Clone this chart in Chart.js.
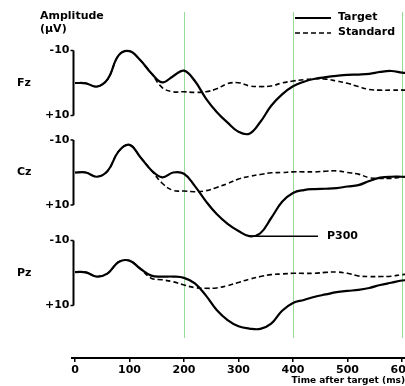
<!DOCTYPE html>
<html>
<head>
<meta charset="utf-8">
<script src="https://cdn.jsdelivr.net/npm/chart.js@4.4.1/dist/chart.umd.min.js"></script>
<style>
html,body{margin:0;padding:0;background:#fff;}
canvas{display:block;}
</style>
</head>
<body>
<canvas id="c" width="405" height="386"></canvas>
<script>
// ---------- data ----------
const timeMs = [0,20,40,60,80,100,120,140,160,180,200,220,240,260,280,300,320,340,360,380,400,420,440,460,480,500,520,540,560,580,600,610];
const fzTarget   = [0,0.1,1.1,-1.2,-8.5,-9.8,-7.0,-3.0,-0.2,-2.1,-3.8,-0.6,4.7,8.9,12.2,15.0,15.6,12.0,7.0,3.5,1.0,-0.4,-1.3,-1.8,-2.2,-2.5,-2.6,-2.8,-3.4,-3.7,-3.2,-3.0];
const fzStandard = [0,0.1,1.1,-1.2,-8.5,-9.8,-7.0,-3.0,1.4,2.7,2.7,2.9,2.7,1.8,0.2,-0.1,0.9,1.1,0.9,0,-0.6,-1.0,-1.3,-1.2,-0.6,0.1,1.1,2.0,2.2,2.2,2.2,2.2];
const czTarget   = [0,0,1.3,-0.5,-6.5,-8.5,-4.7,-0.7,1.5,0,0.4,4.2,8.8,12.8,15.8,18.0,19.6,18.7,14.0,9.0,6.3,5.4,5.1,5.0,4.8,4.3,3.9,2.6,1.6,1.3,1.3,1.3];
const czStandard = [0,0,1.3,-0.5,-6.5,-8.5,-4.7,-0.7,3.3,5.5,5.7,5.9,5.6,4.6,3.4,2.0,1.2,0.6,0.1,0,-0.2,-0.2,-0.2,-0.4,-0.5,0,0.5,1.6,1.8,1.8,1.4,1.3];
const pzTarget   = [-0.3,-0.2,1.1,0.1,-3.4,-3.8,-1.3,0.8,1.1,1.1,1.5,3.2,6.9,11.4,14.5,16.4,17.1,17.2,15.6,11.6,9.2,8.3,7.3,6.6,5.9,5.5,5.2,4.6,3.7,3.0,2.3,2.2];
const pzStandard = [-0.3,-0.2,1.1,0.1,-3.4,-3.8,-1.3,1.6,2.1,2.7,3.7,4.5,4.7,4.6,3.9,2.9,1.9,1.1,0.5,0.3,0.1,0.1,0.1,-0.2,-0.3,0.1,0.9,1.1,1.1,1.0,0.5,0.4];

const electrodes = ['Fz','Cz','Pz'];
const seriesNames = ['Target','Standard'];
const xTickValues = [0,100,200,300,400,500,600];
const markerTimes = [200,400,600];
const ampTickValues = [-10,10];
const ampTickLabels = ['-10','+10'];
const yTitleLines = ['Amplitude','(µV)'];
const xTitle = 'Time after target (ms)';
const peakLabel = 'P300';

// ---------- layout (pixels) ----------
const AREA_TOP = 10, AREA_BOTTOM = 358, AREA_LEFT = 72;
const PX_PER_UV = 3.25;
const panelBaselines = [83, 172.5, 273];
const X_MIN = -5.5, X_MAX = 605.5;
const FONT = 'bold 11px "DejaVu Sans"';

const panelIds = ['yFz','yCz','yPz'];
function panelAxis(base){
  return {type:'linear', display:false, reverse:true,
          min:(AREA_TOP-base)/PX_PER_UV, max:(AREA_BOTTOM-base)/PX_PER_UV};
}
function pts(vals){ return vals.map((v,i)=>({x:timeMs[i], y:v})); }

const seriesByPanel = [[fzTarget,fzStandard],[czTarget,czStandard],[pzTarget,pzStandard]];
const datasets = [];
seriesByPanel.forEach((pair,p)=>{
  pair.forEach((vals,s)=>{
    datasets.push({
      label: electrodes[p]+' '+seriesNames[s],
      data: pts(vals),
      yAxisID: panelIds[p],
      borderColor:'#000',
      borderWidth: s===0 ? 2.2 : 1.6,
      borderDash: s===0 ? [] : [5,3],
      pointRadius:0,
      tension:0.4,
      fill:false
    });
  });
});

const scales = {
  x:{
    type:'linear', min:X_MIN, max:X_MAX, position:'bottom',
    afterBuildTicks(s){ s.ticks = xTickValues.map(v=>({value:v})); },
    afterFit(s){ s.height = 28; s.paddingLeft = 0; s.paddingRight = 0; },
    ticks:{color:'#000', font:{family:'DejaVu Sans', size:11, weight:'bold'}, padding:2, maxRotation:0, autoSkip:false},
    grid:{drawOnChartArea:false, drawTicks:true, tickLength:4, color:'#000', lineWidth:1.5},
    border:{display:true, color:'#000', width:2},
    title:{display:true, text:xTitle, align:'end', color:'#000', padding:0,
           font:{family:'DejaVu Sans', size:9, weight:'bold'}}
  }
};
panelIds.forEach((id,i)=>{ scales[id] = panelAxis(panelBaselines[i]); });

const decor = {
  id:'decor',
  beforeDatasetsDraw(chart){
    const ctx = chart.ctx, xs = chart.scales.x;
    ctx.save();
    ctx.strokeStyle = 'rgba(140,215,140,0.9)';
    ctx.lineWidth = 1;
    markerTimes.forEach(t=>{
      const x = Math.round(xs.getPixelForValue(t))+0.5;
      ctx.beginPath(); ctx.moveTo(x, 12); ctx.lineTo(x, 338); ctx.stroke();
    });
    ctx.restore();
  },
  afterDatasetsDraw(chart){
    const ctx = chart.ctx, xs = chart.scales.x;
    const x0 = xs.getPixelForValue(0) - 1.5;
    ctx.save();
    ctx.fillStyle = '#000'; ctx.strokeStyle = '#000';
    ctx.font = FONT;
    // amplitude axes per panel
    panelIds.forEach((id,i)=>{
      const ys = chart.scales[id];
      const yTop = ys.getPixelForValue(ampTickValues[0]);
      const yBot = ys.getPixelForValue(ampTickValues[1]);
      ctx.lineWidth = 2;
      ctx.beginPath(); ctx.moveTo(x0, yTop); ctx.lineTo(x0, yBot); ctx.stroke();
      ctx.lineWidth = 1.5;
      ctx.beginPath();
      ctx.moveTo(x0-3, yTop); ctx.lineTo(x0, yTop);
      ctx.moveTo(x0-3, yBot); ctx.lineTo(x0, yBot);
      ctx.stroke();
      ctx.textAlign = 'right'; ctx.textBaseline = 'middle';
      ctx.fillText(ampTickLabels[0], x0-4, yTop);
      ctx.fillText(ampTickLabels[1], x0-4, yBot);
      ctx.textAlign = 'left';
      ctx.fillText(electrodes[i], 17, ys.getPixelForValue(0));
    });
    // y title
    ctx.textAlign = 'left'; ctx.textBaseline = 'middle';
    ctx.fillText(yTitleLines[0], 40, 16);
    ctx.fillText(yTitleLines[1], 40, 29);
    // legend
    ctx.lineWidth = 1.8;
    ctx.beginPath(); ctx.moveTo(295, 18); ctx.lineTo(331, 18); ctx.stroke();
    ctx.lineWidth = 1.5; ctx.setLineDash([5,3]);
    ctx.beginPath(); ctx.moveTo(295, 33); ctx.lineTo(331, 33); ctx.stroke();
    ctx.setLineDash([]);
    ctx.fillText(seriesNames[0], 338, 17);
    ctx.fillText(seriesNames[1], 338, 32);
    // P300 annotation at the Cz target peak
    let idx = 0;
    czTarget.forEach((v,i)=>{ if (v > czTarget[idx]) idx = i; });
    const px = xs.getPixelForValue(timeMs[idx]);
    const py = chart.scales.yCz.getPixelForValue(czTarget[idx]);
    ctx.lineWidth = 1.5;
    ctx.beginPath(); ctx.moveTo(px, py); ctx.lineTo(318, py); ctx.stroke();
    ctx.fillText(peakLabel, 327, py);
    ctx.restore();
  }
};

new Chart(document.getElementById('c'), {
  type:'line',
  data:{datasets},
  options:{
    responsive:false, animation:false,
    layout:{padding:{top:AREA_TOP, left:AREA_LEFT, right:0, bottom:0}},
    plugins:{legend:{display:false}, tooltip:{enabled:false}},
    scales
  },
  plugins:[decor]
});
</script>
</body>
</html>
